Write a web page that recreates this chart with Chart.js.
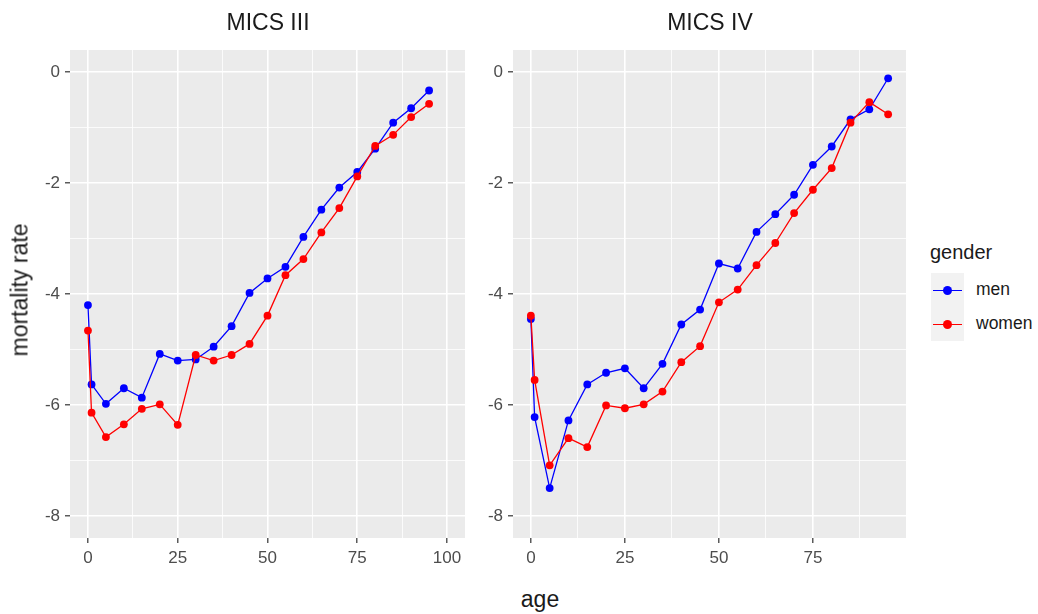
<!DOCTYPE html>
<html>
<head>
<meta charset="utf-8">
<script src="https://cdn.jsdelivr.net/npm/chart.js@4"></script>
<style>
  body { margin: 0; width: 1038px; height: 614px; background: #fff; position: relative; overflow: hidden;
         font-family: "Liberation Sans", Arial, sans-serif; }
  canvas { position: absolute; top: 0; }
  .strip { position: absolute; top: 9px; font-size: 23px; color: #1a1a1a; transform: translateX(-50%); white-space: nowrap; }
  .ytitle { position: absolute; left: 20px; top: 290px; font-size: 23px; color: #1a1a1a;
            transform: translate(-50%, -50%) rotate(-90deg); white-space: nowrap; }
  .xtitle { position: absolute; left: 540px; top: 586px; font-size: 23px; color: #1a1a1a; transform: translateX(-50%); }
  #legend { position: absolute; left: 930px; top: 241px; }
  #legend .ttl { font-size: 20px; color: #1a1a1a; height: 32px; }
  .key { position: relative; height: 34px; }
  .key .box { position: absolute; left: 1px; top: 0; width: 33px; height: 34px; background: #F2F2F2; }
  .key .ln { position: absolute; left: 3px; top: 17px; width: 29px; height: 1px; }
  .key .dot { position: absolute; left: 13px; top: 13px; width: 9px; height: 9px; border-radius: 50%; }
  .key .lab { position: absolute; left: 46px; top: 6px; font-size: 17.5px; color: #1a1a1a; white-space: nowrap; }
</style>
</head>
<body>
<canvas id="c1" width="470" height="580" style="left:0px"></canvas>
<canvas id="c2" width="440" height="580" style="left:470px"></canvas>
<div class="strip" style="left:268px">MICS III</div>
<div class="strip" style="left:710px">MICS IV</div>
<div class="ytitle">mortality rate</div>
<div class="xtitle">age</div>
<div id="legend"><div class="ttl">gender</div></div>
<script>
    const ages = [0, 1, 5, 10, 15, 20, 25, 30, 35, 40, 45, 50, 55, 60, 65, 70, 75, 80, 85, 90, 95];
    const seriesNames = ['men', 'women'];
    const seriesColors = ['#0000FF', '#FF0000'];

    // MICS III
    const mics3Men = [-4.20, -5.63, -5.98, -5.70, -5.87, -5.08, -5.20, -5.18, -4.95, -4.58, -3.98,
        -3.72, -3.51, -2.97, -2.48, -2.08, -1.80, -1.38, -0.91, -0.65, -0.33];
    const mics3Women = [-4.66, -6.14, -6.58, -6.35, -6.07, -5.99, -6.36, -5.10, -5.20, -5.10, -4.90,
        -4.39, -3.66, -3.37, -2.89, -2.45, -1.88, -1.33, -1.13, -0.81, -0.57];

    // MICS IV
    const mics4Men = [-4.45, -6.22, -7.50, -6.28, -5.63, -5.42, -5.34, -5.70, -5.26, -4.55, -4.28,
        -3.45, -3.54, -2.88, -2.56, -2.21, -1.67, -1.34, -0.85, -0.67, -0.11];
    const mics4Women = [-4.39, -5.55, -7.09, -6.60, -6.76, -6.01, -6.06, -5.99, -5.76, -5.23, -4.94,
        -4.15, -3.92, -3.48, -3.08, -2.54, -2.12, -1.73, -0.91, -0.54, -0.76];

    const yTicks = [-8, -6, -4, -2, 0];
    const yGrid = [-8, -7, -6, -5, -4, -3, -2, -1, 0];
    const xTicks3 = [0, 25, 50, 75, 100];
    const xGrid3 = [0, 12.5, 25, 37.5, 50, 62.5, 75, 87.5, 100];
    const xTicks4 = [0, 25, 50, 75];
    const xGrid4 = [0, 12.5, 25, 37.5, 50, 62.5, 75, 87.5];

    const tickFont = { family: '"Liberation Sans", Arial, sans-serif', size: 17 };

    const panelBg = {
        id: 'panelBg',
        beforeDraw(chart) {
            const a = chart.chartArea, ctx = chart.ctx;
            ctx.save();
            ctx.fillStyle = '#EBEBEB';
            ctx.fillRect(a.left, a.top, a.right - a.left, a.bottom - a.top);
            ctx.restore();
        }
    };

    function toPoints(vals) {
        return ages.map((a, i) => ({ x: a, y: vals[i] }));
    }

    function makeDataset(i, vals) {
        return {
            label: seriesNames[i],
            data: toPoints(vals),
            borderColor: seriesColors[i],
            backgroundColor: seriesColors[i],
            borderWidth: 1.3,
            pointRadius: 3.9,
            pointBorderWidth: 0,
            pointBackgroundColor: seriesColors[i],
            tension: 0,
            order: i === 0 ? 1 : 0
        };
    }

    function makeAxis(grid, labels, min, max, sizeFn) {
        return {
            type: 'linear',
            min: min,
            max: max,
            border: { display: false },
            afterBuildTicks: (s) => { s.ticks = grid.map(v => ({ value: v })); },
            afterFit: sizeFn,
            grid: {
                color: '#FFFFFF',
                lineWidth: (c) => labels.includes(c.tick.value) ? 1.6 : 0.8,
                tickColor: (c) => labels.includes(c.tick.value) ? '#333333' : 'rgba(0,0,0,0)',
                tickWidth: 1.2,
                tickLength: 5,
                drawTicks: true
            },
            ticks: {
                autoSkip: false,
                maxRotation: 0,
                padding: 5,
                color: '#4D4D4D',
                font: tickFont,
                callback: (v) => labels.includes(v) ? String(v) : ''
            }
        };
    }

    function makeChart(id, men, women, xGrid, xTicks, xMin, xMax, yWidth, padRight) {
        return new Chart(document.getElementById(id), {
            type: 'line',
            data: { datasets: [makeDataset(0, men), makeDataset(1, women)] },
            plugins: [panelBg],
            options: {
                responsive: false,
                animation: false,
                layout: { padding: { top: 50, right: padRight, left: 0, bottom: 0 } },
                plugins: { legend: { display: false }, tooltip: { enabled: false } },
                scales: {
                    x: makeAxis(xGrid, xTicks, xMin, xMax, (s) => { s.height = 42; }),
                    y: makeAxis(yGrid, yTicks, -8.4, 0.4, (s) => { s.width = yWidth; })
                }
            }
        });
    }

    makeChart('c1', mics3Men, mics3Women, xGrid3, xTicks3, -5, 105, 70, 5);
    makeChart('c2', mics4Men, mics4Women, xGrid4, xTicks4, -4.75, 99.75, 43, 3);

    const legend = document.getElementById('legend');
    seriesNames.forEach((name, i) => {
        const k = document.createElement('div');
        k.className = 'key';
        k.innerHTML = '<div class="box"></div><div class="ln" style="background:' + seriesColors[i] + '"></div>' +
            '<div class="dot" style="background:' + seriesColors[i] + '"></div><div class="lab">' + name + '</div>';
        legend.appendChild(k);
    });
</script>
</body>
</html>
